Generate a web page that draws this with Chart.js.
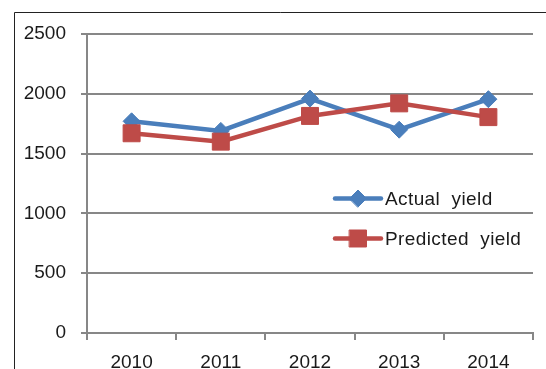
<!DOCTYPE html>
<html>
<head>
<meta charset="utf-8">
<style>
  html, body { margin: 0; padding: 0; background: #ffffff; }
  #wrap { width: 546px; height: 369px; position: relative; overflow: hidden; }
</style>
<script src="https://cdn.jsdelivr.net/npm/chart.js@4.4.0/dist/chart.umd.min.js"></script>
</head>
<body>
<div id="wrap"><canvas id="c" width="546" height="369"></canvas></div>
<script>
// Yield per year: measured vs. model prediction
const years = ['2010', '2011', '2012', '2013', '2014'];
const actualYield = [1770, 1690, 1960, 1700, 1955];
const predictedYield = [1670, 1600, 1815, 1920, 1805];
const seriesNames = ['Actual  yield', 'Predicted  yield'];
const yMin = 0, yMax = 2500, yStep = 500;

const FONT = 'Liberation Sans, Arial, sans-serif';
const GRID = '#878787';
const TEXT = '#1a1a1a';
const BLUE = '#4a7ebb';
const RED = '#be4b48';

// Thin frame around the chart (left and top edges fall inside the canvas)
const framePlugin = {
  id: 'frame',
  beforeDraw(chart) {
    const ctx = chart.ctx;
    ctx.save();
    ctx.strokeStyle = '#222222';
    ctx.lineWidth = 1;
    ctx.beginPath();
    ctx.moveTo(14.5, chart.height);
    ctx.lineTo(14.5, 12.5);
    ctx.lineTo(chart.width, 12.5);
    ctx.stroke();
    ctx.restore();
  }
};

// Legend drawn inside the plot area, to the right
const insideLegend = {
  id: 'insideLegend',
  afterDraw(chart) {
    const ctx = chart.ctx;
    const x0 = 335, x1 = 381, mx = 358, tx = 385;
    const y0 = 198.5, gap = 40;
    ctx.save();
    chart.data.datasets.forEach((ds, i) => {
      const y = y0 + gap * i;
      ctx.strokeStyle = ds.borderColor;
      ctx.lineWidth = ds.borderWidth;
      ctx.lineCap = 'round';
      ctx.beginPath();
      ctx.moveTo(x0, y);
      ctx.lineTo(x1, y);
      ctx.stroke();
      ctx.fillStyle = ds.pointBackgroundColor;
      ctx.strokeStyle = ds.pointBorderColor;
      ctx.lineWidth = ds.pointBorderWidth;
      Chart.helpers.drawPoint(ctx, {
        pointStyle: ds.pointStyle,
        radius: ds.pointRadius,
        borderWidth: ds.pointBorderWidth,
        rotation: 0
      }, mx, y);
      ctx.fillStyle = TEXT;
      ctx.font = '19px ' + FONT;
      if ('letterSpacing' in ctx) ctx.letterSpacing = '0.4px';
      ctx.textBaseline = 'middle';
      ctx.textAlign = 'left';
      ctx.fillText(ds.label, tx, y + 1);
    });
    ctx.restore();
  }
};

new Chart(document.getElementById('c'), {
  type: 'line',
  data: {
    labels: years,
    datasets: [
      {
        label: seriesNames[0],
        data: actualYield,
        borderColor: BLUE,
        backgroundColor: BLUE,
        borderWidth: 4.5,
        pointStyle: 'rectRot',
        pointRadius: 8.5,
        pointBackgroundColor: BLUE,
        pointBorderColor: BLUE,
        pointBorderWidth: 1,
        tension: 0,
        order: 1
      },
      {
        label: seriesNames[1],
        data: predictedYield,
        borderColor: RED,
        backgroundColor: RED,
        borderWidth: 4.5,
        pointStyle: 'rect',
        pointRadius: 12,
        pointBackgroundColor: RED,
        pointBorderColor: RED,
        pointBorderWidth: 1,
        tension: 0,
        order: 0
      }
    ]
  },
  options: {
    responsive: false,
    animation: false,
    layout: { padding: { left: 0, right: 3, top: 34, bottom: 0 } },
    plugins: {
      legend: { display: false },
      tooltip: { enabled: false }
    },
    scales: {
      x: {
        offset: true,
        grid: {
          offset: true,
          drawOnChartArea: false,
          drawTicks: true,
          tickLength: 7,
          color: GRID,
          lineWidth: 2
        },
        border: { color: GRID, width: 2 },
        ticks: {
          color: TEXT,
          font: { family: FONT, size: 19 },
          padding: 11,
          maxRotation: 0
        },
        afterFit(scale) { scale.height = 36; }
      },
      y: {
        min: yMin,
        max: yMax,
        grid: {
          color: GRID,
          lineWidth: 2,
          tickLength: 6
        },
        border: { color: GRID, width: 2 },
        ticks: {
          stepSize: yStep,
          color: TEXT,
          font: { family: FONT, size: 19 },
          padding: 15,
          callback: (v) => String(v)
        },
        afterFit(scale) { scale.width = 87; }
      }
    }
  },
  plugins: [framePlugin, insideLegend]
});
</script>
</body>
</html>
